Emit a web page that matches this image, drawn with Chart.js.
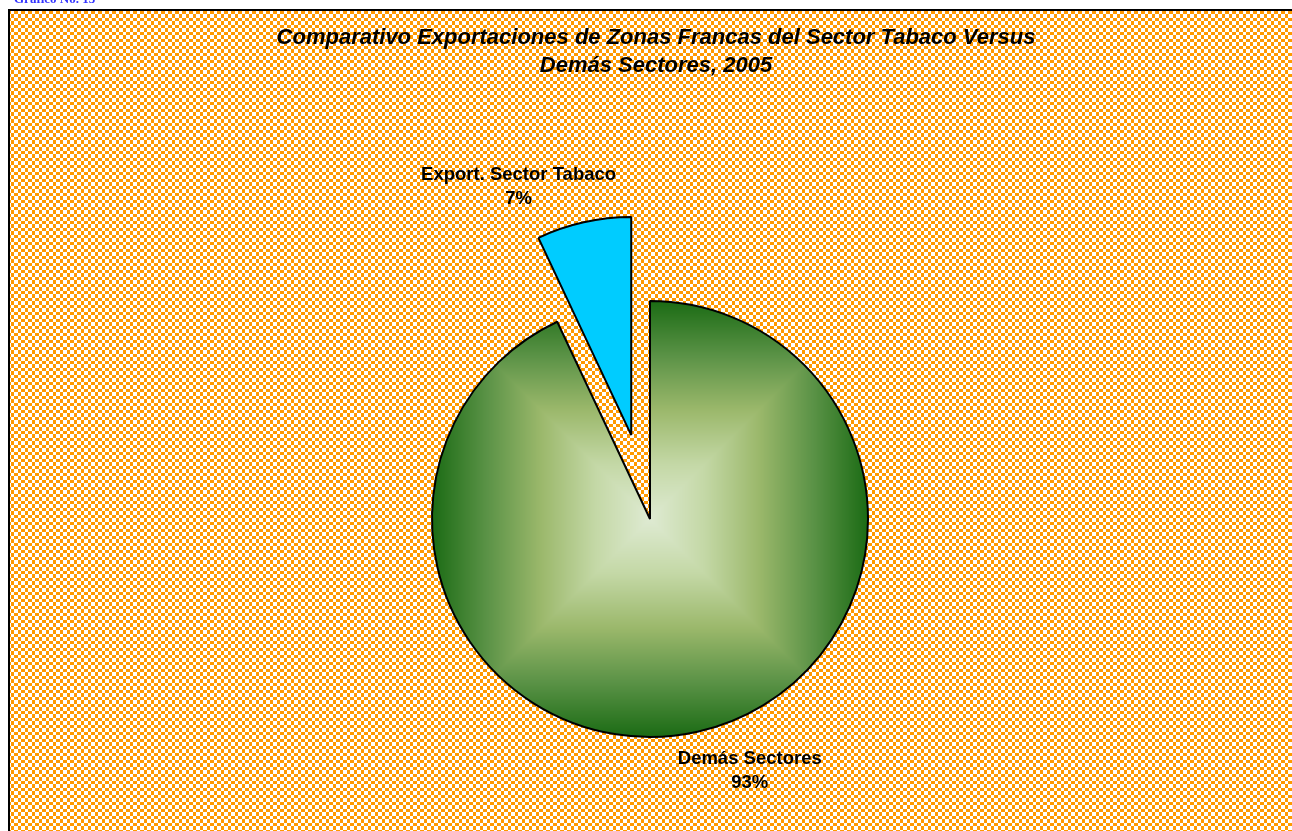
<!DOCTYPE html>
<html lang="es">
<head>
  <meta charset="UTF-8">
  <title>Gráfico No. 13</title>
  <script src="https://cdn.jsdelivr.net/npm/chart.js"></script>
  <style>
    html, body { margin: 0; padding: 0; background: #fff; overflow: hidden; }
  </style>
</head>
<body>
  <canvas id="pieChart" width="1292" height="831"></canvas>

  <script>
    // data
    const categories = ['Demás Sectores', 'Export. Sector Tabaco'];
    const shares = [93, 7];
    const explode = [0, 86]; // how far each slice is pulled out, px
    const titleLines = [
      'Comparativo Exportaciones de Zonas Francas del Sector Tabaco Versus',
      'Demás Sectores, 2005'
    ];
    const caption = 'Gráfico No. 13';

    const PIE_R = 218;
    const FONT = '"Liberation Sans", Arial, sans-serif';

    // orange / white checkerboard used as the plot background
    function checker(ctx) {
      const cells = [4, 3];
      const size = cells.reduce((a, b) => a + b, 0);
      const c = document.createElement('canvas');
      c.width = c.height = size;
      const g = c.getContext('2d');
      g.fillStyle = '#ff9900';
      g.fillRect(0, 0, size, size);
      g.fillStyle = '#ffffff';
      let y = 0;
      cells.forEach((h, row) => {
        let x = 0;
        cells.forEach((w, col) => {
          if ((row + col) % 2 === 0) g.fillRect(x, y, w, h);
          x += w;
        });
        y += h;
      });
      return ctx.createPattern(c, 'repeat');
    }

    // Excel style "from centre" square gradient, light in the middle, dark at the edge
    const greenStops = [
      [0, [222, 234, 210]],
      [0.25, [196, 216, 166]],
      [0.5, [155, 184, 107]],
      [0.75, [90, 146, 70]],
      [1, [27, 107, 20]]
    ];
    function squareGradient(ctx, cx, cy, r) {
      const size = 2 * r;
      const c = document.createElement('canvas');
      c.width = c.height = size;
      const g = c.getContext('2d');
      const img = g.createImageData(size, size);
      for (let py = 0; py < size; py++) {
        for (let px = 0; px < size; px++) {
          const t = Math.min(1, Math.max(Math.abs(px + 0.5 - r), Math.abs(py + 0.5 - r)) / r);
          let k = 1;
          while (k < greenStops.length - 1 && greenStops[k][0] < t) k++;
          const a = greenStops[k - 1], b = greenStops[k];
          const f = (t - a[0]) / (b[0] - a[0]);
          const i = (py * size + px) * 4;
          for (let ch = 0; ch < 3; ch++) img.data[i + ch] = a[1][ch] + (b[1][ch] - a[1][ch]) * f;
          img.data[i + 3] = 255;
        }
      }
      g.putImageData(img, 0, 0);
      const p = ctx.createPattern(c, 'no-repeat');
      p.setTransform(new DOMMatrix().translate(cx - r, cy - r));
      return p;
    }

    let greenFill = null;
    function sliceColor(context) {
      if (context.dataIndex === 1) return '#00ccff';
      const area = context.chart.chartArea;
      if (!area) return '#4f8a3a';
      if (!greenFill) {
        const cx = (area.left + area.right) / 2;
        const cy = (area.top + area.bottom) / 2;
        greenFill = squareGradient(context.chart.ctx, cx, cy, PIE_R);
      }
      return greenFill;
    }

    const backdrop = {
      id: 'backdrop',
      beforeDraw(chart) {
        const ctx = chart.ctx;
        ctx.save();
        ctx.fillStyle = '#ffffff';
        ctx.fillRect(0, 0, chart.width, chart.height);
        ctx.fillStyle = checker(ctx);
        ctx.fillRect(10, 11, chart.width, chart.height);
        ctx.strokeStyle = '#000';
        ctx.lineWidth = 2;
        ctx.strokeRect(9, 10, chart.width + 20, chart.height + 20);
        // caption above the frame, mostly cut off
        ctx.fillStyle = '#3333ff';
        ctx.font = 'bold 13px "Liberation Serif", serif';
        ctx.fillText(caption, 14, 3);
        // title
        ctx.fillStyle = '#000';
        ctx.textAlign = 'center';
        ctx.font = 'italic bold 22px ' + FONT;
        ctx.fillText(titleLines[0], 656, 44);
        ctx.fillText(titleLines[1], 656, 72);
        ctx.restore();
      }
    };

    // pull slices out along their middle angle (Excel style explosion, same radius)
    const explodeSlices = {
      id: 'explodeSlices',
      afterDatasetsUpdate(chart) {
        chart.getDatasetMeta(0).data.forEach((arc, i) => {
          const mid = (arc.startAngle + arc.endAngle) / 2;
          arc.x += Math.cos(mid) * explode[i];
          arc.y += Math.sin(mid) * explode[i];
        });
      }
    };

    const sliceLabels = {
      id: 'sliceLabels',
      afterDatasetsDraw(chart) {
        const ctx = chart.ctx;
        const meta = chart.getDatasetMeta(0);
        const total = shares.reduce((a, b) => a + b, 0);
        ctx.save();
        ctx.fillStyle = '#000';
        ctx.font = 'bold 18.5px ' + FONT;
        ctx.textAlign = 'center';
        ctx.textBaseline = 'middle';
        meta.data.forEach((arc, i) => {
          const p = arc.getProps(['x', 'y', 'startAngle', 'endAngle', 'outerRadius'], true);
          const mid = (p.startAngle + p.endAngle) / 2;
          const cx = p.x - Math.cos(mid) * explode[i];
          const cy = p.y - Math.sin(mid) * explode[i];
          const a = mid - 9 * Math.PI / 180;
          const d = p.outerRadius + explode[i] + 53;
          const x = cx + Math.cos(a) * d;
          const y = cy + Math.sin(a) * d;
          ctx.fillText(categories[i], x, y - 12);
          ctx.fillText(Math.round(shares[i] / total * 100) + '%', x, y + 12);
        });
        ctx.restore();
      }
    };

    const chart = new Chart(document.getElementById('pieChart').getContext('2d'), {
      type: 'pie',
      data: {
        labels: categories,
        datasets: [{
          data: shares,
          backgroundColor: sliceColor,
          borderColor: '#000',
          borderWidth: 2,
          hoverOffset: 0
        }]
      },
      options: {
        responsive: false,
        animation: false,
        events: [],
        radius: PIE_R,
        layout: { padding: { left: 8, right: 0, top: 207, bottom: 0 } },
        plugins: {
          legend: { display: false },
          title: { display: false },
          tooltip: { enabled: false }
        }
      },
      plugins: [backdrop, explodeSlices, sliceLabels]
    });
  </script>
</body>
</html>
